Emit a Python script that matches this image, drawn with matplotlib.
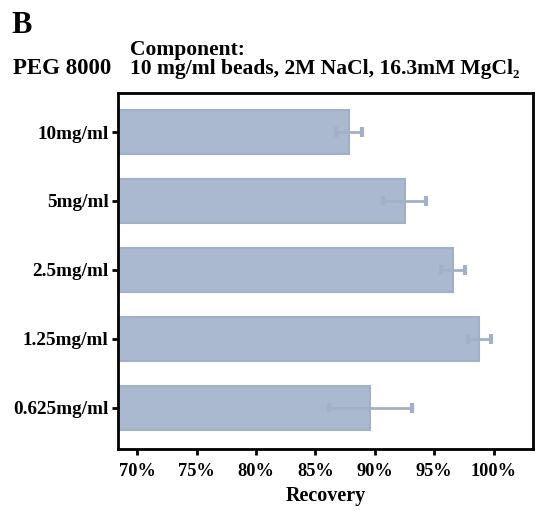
import matplotlib
matplotlib.use("Agg")
import matplotlib.pyplot as plt
from matplotlib.ticker import FuncFormatter

plt.rcParams['font.family'] = ['Liberation Serif', 'DejaVu Serif']
plt.rcParams['font.weight'] = 'bold'

# PEG 8000 concentrations (top to bottom) and recovery (%)
concentrations = ["10mg/ml", "5mg/ml", "2.5mg/ml", "1.25mg/ml", "0.625mg/ml"]
recovery = [87.8, 92.5, 96.6, 98.8, 89.6]
recovery_err = [1.1, 1.8, 1.0, 1.0, 3.5]
x_ticks = [70, 75, 80, 85, 90, 95, 100]

bar_color = "#aab9d0"
edge_color = "#a1b0c7"
err_color = "#a2b1c8"

fig = plt.figure(figsize=(5.35, 5.11), dpi=100)
ax = fig.add_axes([0.2211, 0.1207, 0.7749, 0.6979])

n = len(concentrations)
ypos = list(range(n - 1, -1, -1))
ax.barh(ypos, recovery, height=0.64, color=bar_color, edgecolor=edge_color,
        linewidth=1.5, zorder=2)
ax.errorbar(recovery, ypos, xerr=recovery_err, fmt="none", ecolor=err_color,
            elinewidth=2, capsize=3.5, capthick=3, zorder=3)

ax.set_xlim(68.4, 103.3)
ax.set_ylim(-0.6, n - 1 + 0.57)
ax.set_xticks(x_ticks)
ax.xaxis.set_major_formatter(FuncFormatter(lambda v, p: f"{v:.0f}%"))
ax.set_yticks(ypos)
ax.set_yticklabels(concentrations)

for s in ax.spines.values():
    s.set_linewidth(2)
    s.set_color("black")
ax.tick_params(axis="both", direction="out", length=4, width=2)
ax.tick_params(axis="x", labelsize=13.2, pad=6)
ax.tick_params(axis="y", labelsize=13.8, pad=3)
for lbl in ax.get_xticklabels() + ax.get_yticklabels():
    lbl.set_fontweight("bold")

ax.set_xlabel("Recovery", fontsize=14.5, fontweight="bold", labelpad=4)

fig.text(0.022, 0.935, "B", fontsize=22, fontweight="bold", va="baseline", ha="left")
fig.text(0.025, 0.855, "PEG 8000", fontsize=16.5, fontweight="bold", va="baseline", ha="left")
fig.text(0.243, 0.892, "Component:", fontsize=15.5, fontweight="bold", va="baseline", ha="left")
fig.text(0.243, 0.855, "10 mg/ml beads, 2M NaCl, 16.3mM MgCl\u2082", fontsize=15.5,
         fontweight="bold", va="baseline", ha="left")

fig.savefig("out.png", dpi=100)
